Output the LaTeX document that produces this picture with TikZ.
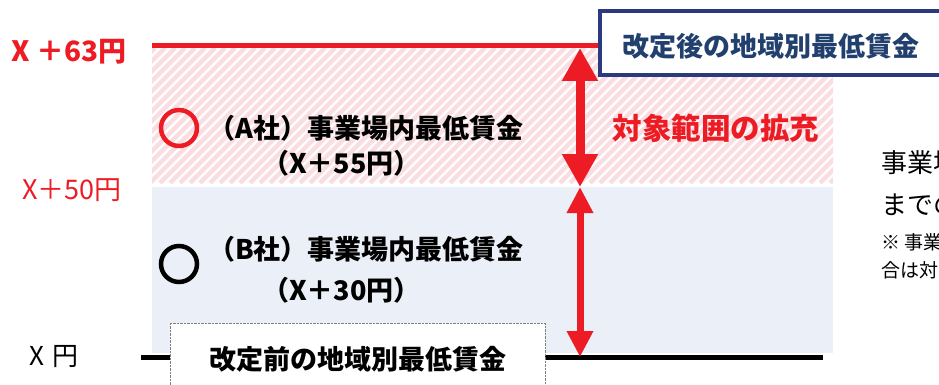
\documentclass[tikz,border=0pt]{standalone}
\usepackage{fontspec}
\newfontfamily\jp{Noto Sans CJK JP}
\usetikzlibrary{arrows.meta,positioning}
\definecolor{kred}{HTML}{ED1C24}
\definecolor{knavy}{HTML}{2B3A7E}
\definecolor{ktext}{HTML}{22406E}
\definecolor{kblue}{HTML}{EBEFF8}
\definecolor{kpink}{HTML}{FADDE1}
\begin{document}
\begin{tikzpicture}[x=1pt,y=-1pt,
  txt/.style={inner sep=0pt,font=\jp\fontsize{26}{30}\selectfont},
  boldtxt/.style={inner sep=0pt,font=\jp\bfseries\fontsize{27}{32}\selectfont},
  note/.style={inner sep=0pt,font=\jp\fontsize{19}{22}\selectfont},
  ring/.style={circle,line width=4.5pt,minimum size=36pt,inner sep=0pt},
  bigarrow/.style={kred,line width=9pt,{Triangle[width=34pt,length=33pt]}-{Triangle[width=34pt,length=33pt]}},
  smallarrow/.style={kred,line width=7pt,{Triangle[width=25pt,length=26pt]}-{Triangle[width=25pt,length=26pt]}}
]
\useasboundingbox (0,0) rectangle (939,385);
\clip (0,0) rectangle (939,385);

\begin{scope}
\clip (152,48) rectangle (833,183);
\foreach \i in {10,20,...,840}
  \draw[kpink,line width=4.5pt] (\i,183) -- ++(135,-135);
\end{scope}
\fill[kblue] (152,187) rectangle (833,353);

\draw[kred,line width=5pt] (152,46) -- (640,46);
\draw[line width=5pt] (141,357) -- (823,357);

\coordinate (top) at (580,48);
\coordinate (mid) at (580,187);
\coordinate (bot) at (580,357);

\node (after) [draw=knavy,line width=4pt,fill=white,minimum width=342pt,minimum height=64pt,
  boldtxt,text=ktext,text height=31pt,text depth=3pt] at (771,43) {改定後の地域別最低賃金};
\node (before) [draw=gray,densely dotted,fill=white,minimum width=375pt,minimum height=72pt,
  boldtxt] at (357.5,359) {改定前の地域別最低賃金};

\draw[bigarrow] (top) -- (mid);
\draw[smallarrow] (mid) -- (bot);

\node (range) [boldtxt,text=kred,font=\jp\bfseries\fontsize{29.5}{34}\selectfont] at (716,128) {対象範囲の拡充};

\node (Acirc) [ring,draw=kred] at (179,128) {};
\node (Aname) [boldtxt,anchor=west] at (208,128) {（A社）事業場内最低賃金};
\node (Awage) [boldtxt,anchor=west] at (262,163) {（X＋55円）};
\node (Bcirc) [ring,draw=black] at (179,264) {};
\node (Bname) [boldtxt,anchor=west] at (208,249) {（B社）事業場内最低賃金};
\node (Bwage) [boldtxt,anchor=west] at (262,290) {（X＋30円）};

\node (new) [boldtxt,text=kred,font=\jp\bfseries\fontsize{28}{32}\selectfont] at (69,52) {X ＋63円};
\node (mid50) [txt,text=kred,font=\jp\fontsize{27}{30}\selectfont] at (72,190) {X＋50円};
\node (old) [txt] at (54,357) {X\,\,円};

\node (r1) [txt,anchor=west] at (881,163) {事業場};
\node (r2) [txt,anchor=west] at (881,205) {までの};
\node (r3) [note,anchor=west] at (881,242) {※ 事業};
\node (r4) [note,anchor=west] at (881,270) {合は対};
\end{tikzpicture}
\end{document}
